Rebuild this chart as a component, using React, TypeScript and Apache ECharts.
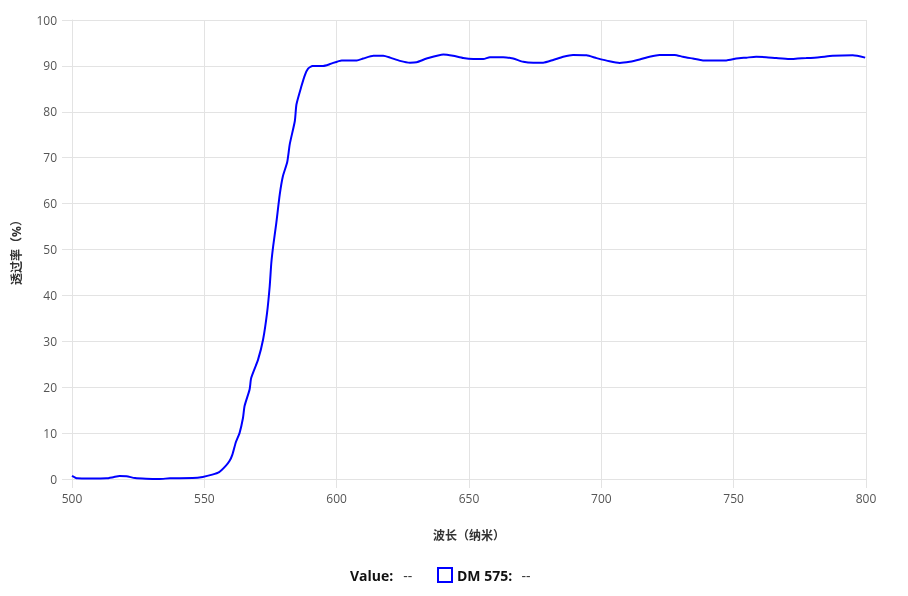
import React, { useEffect, useRef } from "react";
import * as echarts from "echarts";

const wavelengths: number[] = [
  500, 502, 507, 513, 515.6, 518, 520.6, 523.8, 528, 533, 537, 545.6, 549.4, 553, 555.6, 558, 559.5, 560.6, 561.9,
  563.3, 564.6, 565.2, 567.1, 567.7, 570.3, 572.2, 573.7, 574.7, 575.3, 576, 577.2, 578.5, 579.7, 581.3, 582.3,
  584.2, 584.8, 586.7, 588, 589.2, 590.9, 594.9, 597.5, 601.9, 607.6, 610, 613.9, 617.6, 620.2, 623.9, 627.7,
  630.2, 634, 640.3, 644, 647.8, 651.6, 655.4, 657.9, 662.9, 666.7, 670.5, 674.3, 678, 681.8, 685.6, 689.3, 694.4,
  698.2, 703.1, 706.9, 710.7, 714.5, 718.2, 722, 727.7, 730.8, 734.6, 738.4, 747.2, 751, 754.8, 758.5, 762.3,
  766.1, 771.1, 774.2, 777.4, 782.4, 787.4, 795, 799.7,
];

const transmittance: number[] = [
  0.7, 0.15, 0.1, 0.15, 0.4, 0.65, 0.6, 0.2, 0.05, 0, 0.15, 0.2, 0.45, 0.95, 1.5, 2.8, 3.9, 5.3, 8,
  10, 13.3, 15.9, 19.5, 22, 26, 30.4, 36.2, 42, 47, 50.7, 55.8, 62, 66, 69, 73,
  78, 81.6, 85.6, 88, 89.4, 90, 90, 90.4, 91.2, 91.2, 91.6, 92.2, 92.2, 91.8, 91.1, 90.7,
  90.8, 91.6, 92.5, 92.2, 91.7, 91.5, 91.5, 91.9, 91.9, 91.6, 90.9, 90.7, 90.7, 91.3, 92, 92.4, 92.3,
  91.7, 91, 90.65, 90.9, 91.4, 92, 92.4, 92.4, 92, 91.6, 91.2, 91.2, 91.6, 91.8, 92, 91.9,
  91.7, 91.5, 91.6, 91.7, 91.9, 92.2, 92.3, 91.8,
];

const seriesName = "DM 575";
const xTitle = "波长（纳米）";
const yTitle = "透过率（%）";

const FONT = "'Segoe UI', 'Open Sans', 'Noto Sans CJK SC', sans-serif";
const GRID = "#e3e3e3";

export default function App() {
  const ref = useRef<HTMLDivElement>(null);
  useEffect(() => {
    if (!ref.current) return;
    const chart = echarts.init(ref.current, undefined, { renderer: "svg" });
    const data = wavelengths.map((w, i) => [w, transmittance[i]]);
    chart.setOption({
      animation: false,
      textStyle: { fontFamily: FONT },
      grid: { left: 72, right: 42, top: 20, bottom: 117, containLabel: false },
      xAxis: {
        type: "value",
        min: 500,
        max: 800,
        interval: 50,
        name: xTitle,
        nameLocation: "middle",
        nameGap: 50,
        nameTextStyle: { fontSize: 12, fontWeight: "bold", color: "#333", fontFamily: FONT },
        axisLine: { show: true, lineStyle: { color: GRID, width: 1 } },
        axisTick: { show: true, length: 9, lineStyle: { color: GRID } },
        axisLabel: { color: "#555", fontSize: 12, margin: 13, fontFamily: FONT },
        splitLine: { show: true, lineStyle: { color: GRID, width: 1 } },
      },
      yAxis: {
        type: "value",
        min: 0,
        max: 100,
        interval: 10,
        name: yTitle,
        nameLocation: "middle",
        nameGap: 50,
        nameTextStyle: { fontSize: 12, fontWeight: "bold", color: "#333", fontFamily: FONT },
        axisLine: { show: true, lineStyle: { color: GRID, width: 1 } },
        axisTick: { show: true, length: 10, lineStyle: { color: GRID } },
        axisLabel: { color: "#555", fontSize: 12, margin: 15, fontFamily: FONT },
        splitLine: { show: true, lineStyle: { color: GRID, width: 1 } },
      },
      legend: {
        data: [{ name: seriesName, icon: "rect" }],
        left: 437,
        top: 567,
        padding: 0,
        itemWidth: 14,
        itemHeight: 14,
        itemStyle: { color: "transparent", borderColor: "#0000ff", borderWidth: 2 },
        formatter: (n: string) => `{b|${n}:}   {n|--}`,
        textStyle: {
          rich: {
            b: { fontSize: 14, fontWeight: "bold", color: "#111", fontFamily: FONT },
            n: { fontSize: 14, color: "#333", fontFamily: FONT },
          },
        },
        selectedMode: false,
      },
      graphic: [
        {
          type: "text",
          left: 350,
          top: 568,
          style: {
            text: "{b|Value:}   {n|--}",
            rich: {
              b: { fontSize: 14, fontWeight: "bold", fill: "#111", fontFamily: FONT },
              n: { fontSize: 14, fill: "#333", fontFamily: FONT },
            },
          },
        },
      ],
      series: [
        {
          name: seriesName,
          type: "line",
          data,
          showSymbol: false,
          smooth: 0.2,
          lineStyle: { color: "#0000ff", width: 2 },
          itemStyle: { color: "#0000ff" },
        },
      ],
    });
    return () => chart.dispose();
  }, []);
  return (
    <div
      ref={ref}
      style={{ position: "fixed", left: 0, top: 0, width: 908, height: 596 }}
    />
  );
}
